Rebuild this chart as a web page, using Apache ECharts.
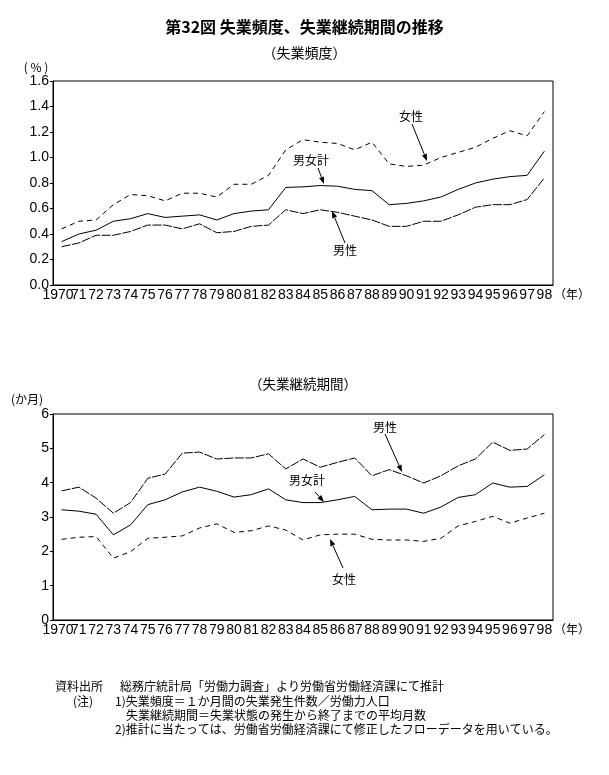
<!DOCTYPE html>
<html>
<head>
<meta charset="utf-8">
<script src="https://cdn.jsdelivr.net/npm/echarts@6/dist/echarts.min.js"></script>
<style>
html,body{margin:0;padding:0;background:#fff;}
#c{width:609px;height:775px;}
</style>
</head>
<body>
<div id="c"></div>
<script>
// ---- data ----
var years = ['1970','71','72','73','74','75','76','77','78','79','80','81','82','83','84','85','86','87','88','89','90','91','92','93','94','95','96','97','98'];

// 失業頻度 (%)
var freqFemale = [0.44,0.50,0.51,0.63,0.71,0.70,0.66,0.72,0.72,0.69,0.79,0.79,0.86,1.06,1.14,1.12,1.11,1.06,1.12,0.95,0.93,0.94,1.00,1.04,1.08,1.15,1.21,1.17,1.36];
var freqTotal  = [0.34,0.40,0.43,0.50,0.52,0.56,0.53,0.54,0.55,0.51,0.56,0.58,0.59,0.765,0.77,0.78,0.775,0.75,0.74,0.63,0.64,0.66,0.69,0.75,0.80,0.83,0.85,0.86,1.05];
var freqMale   = [0.30,0.33,0.39,0.39,0.42,0.47,0.47,0.44,0.48,0.41,0.42,0.46,0.47,0.59,0.56,0.59,0.57,0.54,0.51,0.46,0.46,0.50,0.50,0.55,0.61,0.63,0.63,0.67,0.84];

// 失業継続期間 (か月)
var durMale   = [3.76,3.87,3.55,3.11,3.42,4.13,4.25,4.86,4.89,4.69,4.72,4.72,4.84,4.40,4.69,4.45,4.59,4.72,4.20,4.38,4.20,3.99,4.20,4.49,4.69,5.18,4.94,4.98,5.40];
var durTotal  = [3.21,3.17,3.08,2.48,2.77,3.36,3.50,3.73,3.87,3.75,3.58,3.65,3.82,3.50,3.42,3.42,3.50,3.60,3.21,3.23,3.23,3.11,3.29,3.57,3.65,3.99,3.87,3.89,4.23];
var durFemale = [2.35,2.41,2.43,1.80,1.99,2.38,2.41,2.45,2.68,2.80,2.55,2.60,2.74,2.62,2.33,2.48,2.50,2.50,2.35,2.33,2.33,2.29,2.38,2.74,2.87,3.02,2.82,2.97,3.11];

var freqTicks = {min:0, max:1.6, interval:0.2};
var durTicks  = {min:0, max:6, interval:1};

// ---- chart ----
var JP = '"Noto Sans CJK JP", sans-serif';
var NUM = '"Liberation Sans", Arial, sans-serif';

function arrow(x1,y1,x2,y2){
  var dx=x2-x1, dy=y2-y1, L=Math.sqrt(dx*dx+dy*dy), ux=dx/L, uy=dy/L;
  var hl=7, hw=2.6;
  var bx=x2-ux*hl, by=y2-uy*hl;
  return [
    {type:'line', shape:{x1:x1,y1:y1,x2:bx,y2:by}, style:{stroke:'#000',lineWidth:1}},
    {type:'polygon', shape:{points:[[x2,y2],[bx-uy*hw,by+ux*hw],[bx+uy*hw,by-ux*hw]]}, style:{fill:'#000'}}
  ];
}
function txt(x,y,t,size,align,weight){
  return {type:'text', x:x, y:y, style:{text:t, fill:'#000', font:(weight||'normal')+' '+size+'px '+JP, textAlign:align||'center', textVerticalAlign:'middle'}};
}

var graphics = [
  txt(36,67,'( % )',12,'center'),
  txt(572,294,'（年）',12,'center'),
  txt(303,384,'（失業継続期間）',13.5,'center'),
  txt(27,399,'(か月)',12,'center'),
  txt(572,629,'（年）',12,'center'),
  // top panel labels
  txt(411,116,'女性',12,'center'),
  txt(311,160,'男女計',12,'center'),
  txt(345,250,'男性',12,'center'),
  // bottom panel labels
  txt(385,427,'男性',12,'center'),
  txt(307,480,'男女計',12,'center'),
  txt(344,579,'女性',12,'center'),
  // footnotes
  txt(55,686,'資料出所',12,'left'),
  txt(120,686,'総務庁統計局「労働力調査」より労働省労働経済課にて推計',12,'left'),
  txt(73,701,'(注)',12,'left'),
  txt(115,701,'1)失業頻度＝１か月間の失業発生件数／労働力人口',12,'left'),
  txt(126,715,'失業継続期間＝失業状態の発生から終了までの平均月数',12,'left'),
  txt(115,729,'2)推計に当たっては、労働省労働経済課にて修正したフローデータを用いている。',12,'left')
];
graphics = graphics
  .concat(arrow(412,124,427,161))
  .concat(arrow(318,168,324,184))
  .concat(arrow(345,243,332,211))
  .concat(arrow(385,434,402,472))
  .concat(arrow(315,492,324,502))
  .concat(arrow(343,568,330,539));

function xAxisCfg(gi){
  return {
    type:'category', gridIndex:gi, data:years, boundaryGap:true,
    axisLine:{show:true, lineStyle:{color:'#000', width:1}},
    axisTick:{show:false},
    axisLabel:{
      interval:0, margin:3, color:'#000', fontFamily:NUM, fontSize:14,
      formatter:function(v,i){ return i===0 ? '{f|'+v+'}' : v; },
      rich:{f:{width:24, align:'right', fontFamily:NUM, fontSize:14, color:'#000'}}
    },
    splitLine:{show:false}
  };
}
function yAxisCfg(gi,t,dec){
  return {
    type:'value', gridIndex:gi, min:t.min, max:t.max, interval:t.interval,
    axisLine:{show:true, lineStyle:{color:'#000', width:1}},
    axisTick:{show:true, length:3, lineStyle:{color:'#000'}},
    axisLabel:{margin:4, color:'#000', fontFamily:NUM, fontSize:14,
      formatter:function(v){ return dec ? v.toFixed(1) : String(Math.round(v)); }},
    splitLine:{show:false}
  };
}
function lineSeries(name,xi,data,type){
  var ls = {color:'#000', width:1, type: type};
  return {name:name, type:'line', xAxisIndex:xi, yAxisIndex:xi, data:data,
    symbol:'none', smooth:false, lineStyle:ls, silent:true, animation:false};
}

var chart = echarts.init(document.getElementById('c'), null, {renderer:'canvas'});
chart.setOption({
  backgroundColor:'#fff',
  animation:false,
  title:[
    {text:'第32図 失業頻度、失業継続期間の推移', left:'center', top:14,
     textStyle:{fontFamily:JP, fontSize:16, fontWeight:'bold', color:'#000'}},
    {text:'（失業頻度）', left:'center', top:41,
     textStyle:{fontFamily:JP, fontSize:14, fontWeight:'normal', color:'#000'}}
  ],
  grid:[
    {left:53, top:81, width:500, height:204, show:true, borderColor:'#000', borderWidth:1, backgroundColor:'transparent'},
    {left:53, top:414, width:500, height:206, show:true, borderColor:'#000', borderWidth:1, backgroundColor:'transparent'}
  ],
  xAxis:[xAxisCfg(0), xAxisCfg(1)],
  yAxis:[yAxisCfg(0,freqTicks,true), yAxisCfg(1,durTicks,false)],
  series:[
    lineSeries('女性',0,freqFemale,[5,4]),
    lineSeries('男女計',0,freqTotal,'solid'),
    lineSeries('男性',0,freqMale,[9,1.5]),
    lineSeries('男性',1,durMale,[9,1.5]),
    lineSeries('男女計',1,durTotal,'solid'),
    lineSeries('女性',1,durFemale,[5,4])
  ],
  graphic: graphics
});
</script>
</body>
</html>
